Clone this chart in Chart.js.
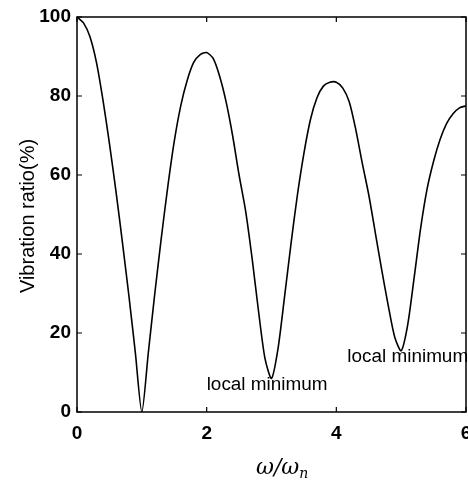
<!DOCTYPE html>
<html>
<head>
<meta charset="utf-8">
<script src="https://cdn.jsdelivr.net/npm/chart.js@4/dist/chart.umd.min.js"></script>
<style>
  html, body { margin: 0; padding: 0; background: #fff; }
  canvas { display: block; }
</style>
</head>
<body>
<canvas id="grafico" width="468" height="481"></canvas>
<script>
// frequency ratio w/wn (0 .. 6, step 0.1) and residual vibration ratio in %
const razaoFreq = [
  0.0, 0.1, 0.2, 0.3, 0.4, 0.5, 0.6, 0.7, 0.8, 0.9,
  1.0, 1.1, 1.2, 1.3, 1.4, 1.5, 1.6, 1.7, 1.8, 1.9,
  2.0, 2.1, 2.2, 2.3, 2.4, 2.5, 2.6, 2.7, 2.8, 2.9,
  3.0, 3.1, 3.2, 3.3, 3.4, 3.5, 3.6, 3.7, 3.8, 3.9,
  4.0, 4.1, 4.2, 4.3, 4.4, 4.5, 4.6, 4.7, 4.8, 4.9,
  5.0, 5.1, 5.2, 5.3, 5.4, 5.5, 5.6, 5.7, 5.8, 5.9, 6.0
];
const vibracao = [
  100, 98.5, 95, 88.5, 79, 68, 56, 43, 29.5, 15,
  0, 15, 30, 44, 57, 68.5, 77.5, 84, 88.5, 90.5,
  91, 89.5, 85, 78.5, 70, 60, 51, 39, 25.5, 13.5,
  8.5, 16, 29, 42.5, 55, 65.5, 74, 79.5, 82.5, 83.5,
  83.5, 82, 78.5, 71.5, 63, 55, 45.5, 36, 27, 19,
  15.5, 22, 34, 46.5, 56.5, 63.5, 69, 73, 75.5, 77, 77.5
];
const ticksX = [0, 2, 4, 6];
const ticksY = [0, 20, 40, 60, 80, 100];
const anotacoes = [
  { texto: 'local minimum', x: 2.0, y: 6.8 },
  { texto: 'local minimum', x: 4.17, y: 13.8 }
];

const PLOT = { left: 77, right: 466, top: 17, bottom: 412 };
const fonteNum = '"Liberation Sans", Arial, sans-serif';

// moldura, ticks internos, anotações e rótulos dos eixos
const extras = {
  id: 'extras',
  afterDraw(chart) {
    const ctx = chart.ctx;
    const a = chart.chartArea;
    const sx = chart.scales.x, sy = chart.scales.y;
    ctx.save();
    ctx.strokeStyle = '#000';
    ctx.lineWidth = 1.5;
    ctx.strokeRect(a.left, a.top, a.right - a.left, a.bottom - a.top);

    ctx.lineWidth = 1.2;
    ctx.beginPath();
    ticksX.forEach(v => {
      const px = sx.getPixelForValue(v);
      ctx.moveTo(px, a.bottom); ctx.lineTo(px, a.bottom - 5);
      ctx.moveTo(px, a.top); ctx.lineTo(px, a.top + 5);
    });
    ticksY.forEach(v => {
      const py = sy.getPixelForValue(v);
      ctx.moveTo(a.left, py); ctx.lineTo(a.left + 5, py);
      ctx.moveTo(a.right, py); ctx.lineTo(a.right - 5, py);
    });
    ctx.stroke();

    ctx.fillStyle = '#000';
    ctx.font = '18px ' + fonteNum;
    ctx.textAlign = 'left';
    ctx.textBaseline = 'middle';
    anotacoes.forEach(n => {
      ctx.save();
      ctx.translate(sx.getPixelForValue(n.x), sy.getPixelForValue(n.y));
      ctx.scale(1.05, 1);
      ctx.fillText(n.texto, 0, 0);
      ctx.restore();
    });

    // título do eixo y
    ctx.save();
    ctx.translate(28, 216);
    ctx.rotate(-Math.PI / 2);
    ctx.textAlign = 'center';
    ctx.font = '20px ' + fonteNum;
    ctx.fillText('Vibration ratio(%)', 0, 0);
    ctx.restore();

    // ω/ωn
    ctx.textBaseline = 'alphabetic';
    ctx.textAlign = 'left';
    const serif = '"DejaVu Serif", "Liberation Serif", serif';
    const base = 474;
    ctx.font = 'italic 22px ' + serif;
    const t1 = 'ω/ω';
    const w1 = ctx.measureText(t1).width;
    const x0 = 256;
    ctx.fillText(t1, x0, base);
    ctx.font = 'italic 14px ' + serif;
    ctx.fillText('n', x0 + w1, base + 4);
    ctx.restore();
  }
};

const pontos = razaoFreq.map((x, i) => ({ x: x, y: vibracao[i] }));

new Chart(document.getElementById('grafico'), {
  type: 'line',
  data: {
    datasets: [{
      data: pontos,
      borderColor: '#000',
      borderWidth: 1.6,
      pointRadius: 0,
      tension: 0.25,
      fill: false
    }]
  },
  options: {
    responsive: false,
    animation: false,
    layout: { padding: { top: PLOT.top, right: 468 - PLOT.right, left: 0, bottom: 0 } },
    plugins: { legend: { display: false }, tooltip: { enabled: false } },
    scales: {
      x: {
        type: 'linear',
        min: 0, max: 6,
        afterFit: s => { s.height = 481 - PLOT.bottom; s.paddingLeft = 0; s.paddingRight = 0; },
        afterBuildTicks: s => { s.ticks = ticksX.map(v => ({ value: v })); },
        grid: { display: false, drawTicks: false },
        border: { display: false },
        ticks: {
          color: '#000', padding: 10,
          font: { family: fonteNum, size: 19, weight: 'bold' }
        }
      },
      y: {
        min: 0, max: 100,
        afterFit: s => { s.width = PLOT.left; s.paddingTop = 0; s.paddingBottom = 0; },
        afterBuildTicks: s => { s.ticks = ticksY.map(v => ({ value: v })); },
        grid: { display: false, drawTicks: false },
        border: { display: false },
        ticks: {
          color: '#000', padding: 6,
          font: { family: fonteNum, size: 19, weight: 'bold' }
        }
      }
    }
  },
  plugins: [extras]
});
</script>
</body>
</html>
